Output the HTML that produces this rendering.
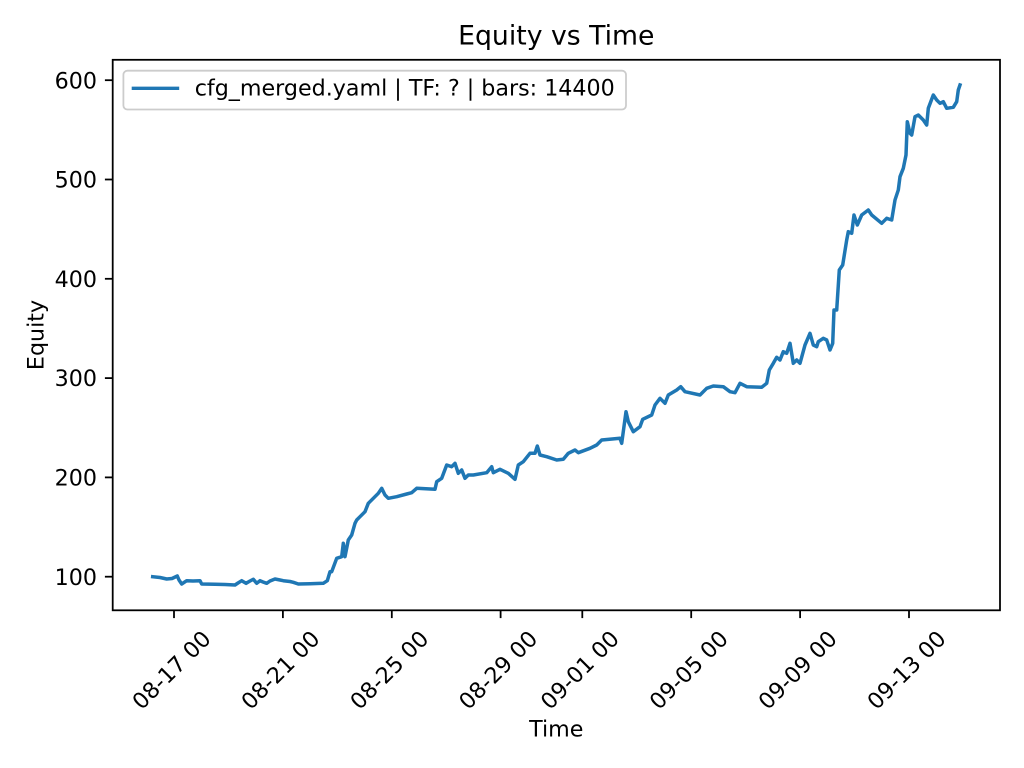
<!DOCTYPE html>
<html>
<head>
<meta charset="utf-8">
<style>
  html, body { margin: 0; padding: 0; background: #ffffff; }
  svg { display: block; }
  text { font-family: "DejaVu Sans", "Liberation Sans", sans-serif; fill: #000; }
</style>
</head>
<body>
<svg width="1024" height="768" viewBox="0 0 1024 768" xmlns="http://www.w3.org/2000/svg">
  <rect x="0" y="0" width="1024" height="768" fill="#ffffff"/>

  <!-- Title -->
  <text x="556.3" y="44.5" font-size="26.7" text-anchor="middle">Equity vs Time</text>

  <!-- Series -->
  <polyline fill="none" stroke="#1f77b4" stroke-width="3.5" stroke-linejoin="round" stroke-linecap="square"
    points="152.7,576.7 160,577.5 166.7,579 172,578.5 177.3,576 179,580 181.7,584 186.7,580.7 193,581 200,580.7 201.7,584 215,584.3 225,584.5 235,585 238,583 241.7,580.7 246,583.3 250,581 253.3,579.3 256.7,583.3 260,580.7 263,582 266.7,583.3 270,581 275,579 280,580 283.3,580.7 290,581.5 293.3,582.3 298.3,584 310,583.8 323.3,583.3 327.3,580.7 330,571.7 331.7,571.7 336.7,558.3 341.7,556.7 343.3,543.3 345,556.7 348.3,540 351.7,535 355,523.3 356.7,520 360,516.7 365,511.7 368.3,503.3 373.3,498.3 378.3,493.3 381.7,488.3 385,495 388.3,498.3 396.7,496.7 406.7,494 411.7,492.7 416.7,488.3 435,489.3 436.7,481.7 441.7,478.3 446.7,465 451.7,466.7 455,463.3 458.3,473.3 461.7,470 465,478.3 468.3,475 473.3,475 486.7,472.7 491.7,466.7 493.3,472.7 500,469.3 508.3,473.3 515,479.3 518.3,465 523.3,461.7 530,453.3 535,453.3 537.3,446 540,455 546.7,456.7 556.7,460 563.3,459.3 568.3,453.3 575,450 578.3,452.7 590,448.3 596.7,445 601.7,440 620,438.3 621.7,443.3 626,411.7 628.3,421.7 633.3,431.7 640,426.7 642.7,419.3 651.7,415 655,405 660,398.3 665,403.3 668.3,395 676.7,390 680.7,386.7 685,391.7 700,395 706.7,388.3 713.3,386 723.3,386.7 730,391.7 735,392.7 740,383.3 746.7,386.7 761.7,387.3 766.7,383.3 769.3,370 773.3,363.3 776.7,357.3 780,360 783.3,351.7 786.7,353.3 790,343.3 793.3,363.3 796.7,360 800,363.3 805,345 810,333.3 813.3,345 816.7,346.7 818.3,341.7 823.3,338.3 826.7,340 830,350 832.7,343.3 834,310 836.7,310 839.3,270 842.7,265 846.7,240 848.3,231.7 851.7,233.3 854,215 857.3,225 861.7,215 868.3,210 871.7,215 881.7,223.3 886.7,218.3 891.7,220 895,200 898.3,190 900,176.7 903.3,168.3 906,155 907.3,121.7 910,133.3 911.7,135 915,116.7 918.3,115 923.3,120 926.7,125 928.3,108.3 933.3,95 936.7,100 940,103.3 943.3,101.7 946.7,108.3 953.3,107.3 956.7,101.7 958.3,90 960,85"/>

  <!-- Axes spines -->
  <rect x="112.7" y="59.8" width="887.3" height="550.5" fill="none" stroke="#000" stroke-width="1.78"/>

  <!-- Y ticks -->
  <g stroke="#000" stroke-width="1.78">
    <line x1="104.9" y1="576.7" x2="112.7" y2="576.7"/>
    <line x1="104.9" y1="477.4" x2="112.7" y2="477.4"/>
    <line x1="104.9" y1="378.1" x2="112.7" y2="378.1"/>
    <line x1="104.9" y1="278.8" x2="112.7" y2="278.8"/>
    <line x1="104.9" y1="179.5" x2="112.7" y2="179.5"/>
    <line x1="104.9" y1="80.2" x2="112.7" y2="80.2"/>
  </g>
  <g font-size="22.2" text-anchor="end">
    <text x="97" y="584.8">100</text>
    <text x="97" y="485.5">200</text>
    <text x="97" y="386.2">300</text>
    <text x="97" y="286.9">400</text>
    <text x="97" y="187.6">500</text>
    <text x="97" y="88.3">600</text>
  </g>

  <!-- X ticks -->
  <g stroke="#000" stroke-width="1.78">
    <line x1="174" y1="610.3" x2="174" y2="618.1"/>
    <line x1="282.9" y1="610.3" x2="282.9" y2="618.1"/>
    <line x1="391.8" y1="610.3" x2="391.8" y2="618.1"/>
    <line x1="500.6" y1="610.3" x2="500.6" y2="618.1"/>
    <line x1="582.3" y1="610.3" x2="582.3" y2="618.1"/>
    <line x1="691.2" y1="610.3" x2="691.2" y2="618.1"/>
    <line x1="800.1" y1="610.3" x2="800.1" y2="618.1"/>
    <line x1="909" y1="610.3" x2="909" y2="618.1"/>
  </g>
  <g font-size="22.2" text-anchor="middle" dominant-baseline="central">
    <text transform="translate(172,670.5) rotate(-45)">08-17 00</text>
    <text transform="translate(280.9,670.5) rotate(-45)">08-21 00</text>
    <text transform="translate(389.8,670.5) rotate(-45)">08-25 00</text>
    <text transform="translate(498.6,670.5) rotate(-45)">08-29 00</text>
    <text transform="translate(580.3,670.5) rotate(-45)">09-01 00</text>
    <text transform="translate(689.2,670.5) rotate(-45)">09-05 00</text>
    <text transform="translate(798.1,670.5) rotate(-45)">09-09 00</text>
    <text transform="translate(907,670.5) rotate(-45)">09-13 00</text>
  </g>

  <!-- Axis labels -->
  <text x="556.3" y="736.7" font-size="22.2" text-anchor="middle">Time</text>
  <text transform="translate(43.3,335) rotate(-90)" font-size="22.2" text-anchor="middle">Equity</text>

  <!-- Legend -->
  <rect x="123.4" y="70.7" width="502.6" height="38.8" rx="4" ry="4" fill="#ffffff" fill-opacity="0.8" stroke="#cccccc" stroke-width="1.78"/>
  <line x1="131.7" y1="88.3" x2="179.2" y2="88.3" stroke="#1f77b4" stroke-width="3.3"/>
  <text x="194.7" y="95.6" font-size="22.2">cfg_merged.yaml | TF: ? | bars: 14400</text>
</svg>
</body>
</html>
